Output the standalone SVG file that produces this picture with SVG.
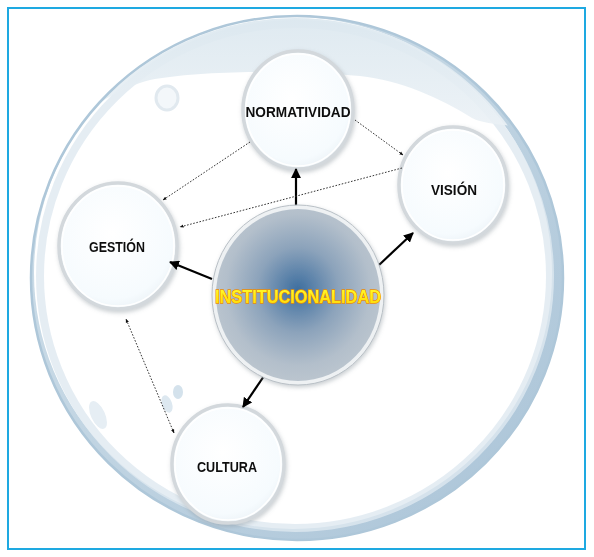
<svg xmlns="http://www.w3.org/2000/svg" width="594" height="557" viewBox="0 0 594 557">
<style>
.lbl{font-family:"Liberation Sans",Arial,sans-serif;font-weight:bold;font-size:15px;fill:#111;text-anchor:middle}
.sat{fill:url(#satFill);stroke:#d3d8dc;stroke-width:3.5}
.satIn{fill:none;stroke:#ffffff;stroke-width:1.5}
.solid{stroke:#000;stroke-width:2.2;fill:none;marker-end:url(#ah)}
.dot{stroke:#333;stroke-width:1;stroke-dasharray:1.6 1.6;fill:none;marker-end:url(#ahs)}
</style>
<defs>
<radialGradient id="satFill" cx="0.45" cy="0.4" r="0.65">
<stop offset="0" stop-color="#ffffff"/>
<stop offset="0.8" stop-color="#f6fbfe"/>
<stop offset="1" stop-color="#e9f0f5"/>
</radialGradient>
<radialGradient id="ctrFill" cx="0.5" cy="0.47" r="0.55">
<stop offset="0" stop-color="#3d6e9f"/>
<stop offset="0.45" stop-color="#8ca3bb"/>
<stop offset="0.8" stop-color="#b3bfcb"/>
<stop offset="1" stop-color="#bcc6cf"/>
</radialGradient>
<linearGradient id="rimGrad" x1="0" y1="0" x2="1" y2="1">
<stop offset="0" stop-color="#d5e3ec"/>
<stop offset="1" stop-color="#a9c3d7"/>
</linearGradient>
<linearGradient id="topBand" x1="0" y1="0" x2="0" y2="1">
<stop offset="0" stop-color="#d9e6ee"/>
<stop offset="1" stop-color="#eef3f7"/>
</linearGradient>
<linearGradient id="txtGrad" x1="0" y1="0" x2="0" y2="1">
<stop offset="0" stop-color="#ffff30"/>
<stop offset="1" stop-color="#ffd800"/>
</linearGradient>
<clipPath id="inner">
<ellipse cx="295" cy="276" rx="262" ry="258"/>
</clipPath>
<filter id="sh" x="-20%" y="-20%" width="140%" height="140%">
<feDropShadow dx="1" dy="2" stdDeviation="2" flood-color="#8a949c" flood-opacity="0.45"/>
</filter>
<marker id="ah" viewBox="0 0 10 10" refX="9" refY="5" markerWidth="4.5" markerHeight="4.5" orient="auto" markerUnits="strokeWidth">
<path d="M0,0 L10,5 L0,10 z" fill="#000"/>
</marker>
<marker id="ahs" viewBox="0 0 10 10" refX="9" refY="5" markerWidth="4" markerHeight="4" orient="auto" markerUnits="strokeWidth">
<path d="M0,1 L10,5 L0,9 z" fill="#111"/>
</marker>
<marker id="ahsStart" viewBox="0 0 10 10" refX="1" refY="5" markerWidth="4" markerHeight="4" orient="auto" markerUnits="strokeWidth">
<path d="M10,1 L0,5 L10,9 z" fill="#111"/>
</marker>
</defs>
<rect x="0" y="0" width="594" height="557" fill="#ffffff"/>
<rect x="8" y="8" width="577" height="541" fill="#ffffff" stroke="#1ea9e1" stroke-width="2"/>

<g id="bubble">
<ellipse cx="297" cy="278" rx="266" ry="262" fill="url(#rimGrad)"/>
<ellipse cx="293" cy="273" rx="259" ry="256" fill="#ffffff"/>
<ellipse cx="295" cy="276" rx="255" ry="252" fill="none" stroke="#dfe9f0" stroke-width="8" opacity="0.8"/>
<path clip-path="url(#inner)" d="M40,140 L40,0 L560,0 L560,150 L512,126 C495,124 482,123 472,118 C440,98 400,80 360,76 C300,70 200,70 150,80 C120,88 100,102 40,140 Z" fill="url(#topBand)" opacity="0.9"/>
<ellipse cx="297" cy="278" rx="266" ry="262" fill="none" stroke="#aec7d9" stroke-width="2.5"/>
<ellipse cx="167" cy="98" rx="11" ry="12" fill="#f3f7fa" stroke="#e1e9ef" stroke-width="3"/>
<ellipse cx="178" cy="392" rx="5" ry="7" fill="#d4e2ec"/>
<ellipse cx="167" cy="404" rx="5" ry="9" fill="#dde8f0" transform="rotate(-20 167 404)"/>
<ellipse cx="98" cy="415" rx="7" ry="15" fill="#e6eef4" transform="rotate(-25 98 415)"/>
</g>

<g id="node-normatividad" filter="url(#sh)">
<ellipse class="sat" cx="298" cy="110" rx="55" ry="59"/>
<ellipse class="satIn" cx="298" cy="110" rx="52" ry="56"/>
<text class="lbl" x="298" y="117" textLength="105" lengthAdjust="spacingAndGlyphs">NORMATIVIDAD</text>
</g>

<g id="node-vision" filter="url(#sh)">
<ellipse class="sat" cx="453" cy="185" rx="54" ry="58"/>
<ellipse class="satIn" cx="453" cy="185" rx="51" ry="55"/>
<text class="lbl" x="454" y="195" textLength="46" lengthAdjust="spacingAndGlyphs">VISIÓN</text>
</g>

<g id="node-gestion" filter="url(#sh)">
<ellipse class="sat" cx="118" cy="246" rx="59" ry="63"/>
<ellipse class="satIn" cx="118" cy="246" rx="56" ry="60"/>
<text class="lbl" x="117" y="252" textLength="56" lengthAdjust="spacingAndGlyphs">GESTIÓN</text>
</g>

<g id="node-cultura" filter="url(#sh)">
<ellipse class="sat" cx="228" cy="464" rx="56" ry="59"/>
<ellipse class="satIn" cx="228" cy="464" rx="53" ry="56"/>
<text class="lbl" x="227" y="472" textLength="60" lengthAdjust="spacingAndGlyphs">CULTURA</text>
</g>

<g id="connectors">
<line class="solid" x1="296" y1="210" x2="296" y2="169"/>
<line class="solid" x1="379" y1="265" x2="413" y2="233"/>
<line class="solid" x1="212" y1="279" x2="170" y2="262"/>
<line class="solid" x1="264" y1="376" x2="243" y2="407"/>
<line class="dot" x1="355" y1="120" x2="403" y2="155"/>
<line class="dot" x1="250" y1="142" x2="163" y2="200"/>
<line class="dot" x1="402" y1="168" x2="180" y2="227"/>
<line class="dot" x1="174" y1="433" x2="126" y2="319" marker-start="url(#ahsStart)"/>
</g>

<g id="node-institucionalidad" filter="url(#sh)">
<ellipse cx="298" cy="295" rx="86" ry="90" fill="#eef1f3" stroke="#b9c0c6" stroke-width="1"/>
<ellipse cx="298" cy="295" rx="82" ry="86" fill="url(#ctrFill)"/>
<text x="298" y="303" font-family="Liberation Sans, Arial, sans-serif" font-weight="bold" font-size="18.5" text-anchor="middle" fill="url(#txtGrad)" stroke="#f08a00" stroke-width="1.3" paint-order="stroke" textLength="166" lengthAdjust="spacingAndGlyphs">INSTITUCIONALIDAD</text>
</g>
</svg>
